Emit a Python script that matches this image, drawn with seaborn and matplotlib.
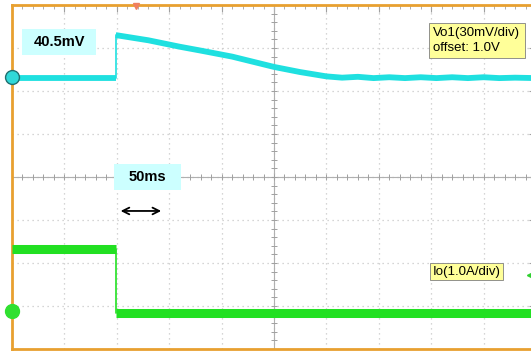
import numpy as np
import matplotlib
matplotlib.use("Agg")
import matplotlib.pyplot as plt
from matplotlib.patches import Rectangle
import seaborn as sns
import pandas as pd

step_t = 1.98
vo1_pre_t = [0.0, 1.98]
vo1_pre_v = [6.30, 6.30]
vo1_post_t = [1.98, 2.6, 3.2, 3.6, 4.2, 4.6, 5.0, 5.5, 6.0, 6.3, 6.6, 6.9,
              7.2, 7.5, 7.8, 8.1, 8.4, 8.7, 9.0, 9.3, 9.6, 10.0]
vo1_post_v = [7.30, 7.18, 7.03, 6.94, 6.80, 6.68, 6.56, 6.44, 6.34, 6.31,
              6.33, 6.30, 6.32, 6.30, 6.32, 6.30, 6.32, 6.30, 6.32, 6.30, 6.31, 6.30]
io_pre_t = [0.0, 1.98]
io_pre_v = [2.33, 2.33]
io_post_t = [1.98, 10.0]
io_post_v = [0.84, 0.84]

step_label = "40.5mV"
time_label = "50ms"
vo1_label = "Vo1(30mV/div)\noffset: 1.0V"
io_label = "Io(1.0A/div)"

sns.set_style("white")
plt.rcParams["font.family"] = ["Liberation Sans", "DejaVu Sans"]
plt.rcParams["text.color"] = "black"

fig = plt.figure(figsize=(5.31, 3.52), dpi=100)
ax = fig.add_axes([12 / 531, 3 / 352, 524 / 531, 344 / 352])

df_vo = pd.DataFrame({"t": vo1_pre_t + vo1_post_t, "v": vo1_pre_v + vo1_post_v,
                      "seg": [0] * len(vo1_pre_t) + [1] * len(vo1_post_t)})
df_io = pd.DataFrame({"t": io_pre_t + io_post_t, "v": io_pre_v + io_post_v,
                      "seg": [0] * len(io_pre_t) + [1] * len(io_post_t)})
sns.lineplot(data=df_vo, x="t", y="v", units="seg", ax=ax, color="#1fe0e0",
             lw=4.2, sort=False, estimator=None, zorder=5, solid_capstyle="butt")
sns.lineplot(data=df_io, x="t", y="v", units="seg", ax=ax, color="#22e022",
             lw=6.5, sort=False, estimator=None, zorder=5, solid_capstyle="butt")
# thin vertical edges of the steps
ax.plot([step_t, step_t], [vo1_pre_v[-1], vo1_post_v[0]], color="#1fe0e0", lw=1.2, zorder=5)
ax.plot([step_t, step_t], [io_post_v[0], io_pre_v[-1]], color="#22e022", lw=1.2, zorder=5)

ax.set_xlim(0, 10)
ax.set_ylim(0, 8)
ax.set_xlabel("")
ax.set_ylabel("")

# graticule
ax.set_xticks(np.arange(0, 11, 1))
ax.set_yticks(np.arange(0, 9, 1))
ax.set_xticks(np.arange(0, 10.01, 0.2), minor=True)
ax.set_yticks(np.arange(0, 8.01, 0.2), minor=True)
ax.tick_params(which="both", direction="in", top=True, right=True,
               labelbottom=False, labelleft=False, color="#a0a0a0")
ax.tick_params(which="major", length=5, width=0.8)
ax.tick_params(which="minor", length=3, width=0.6)
ax.grid(True, which="major", color="#c8c8c8", ls=(0, (1, 3)), lw=0.9)

ax.axhline(4, color="#b0b0b0", lw=0.8, zorder=1)
ax.axvline(5, color="#b0b0b0", lw=0.8, zorder=1)
cx = np.arange(0, 10.01, 0.2)
cy = np.arange(0, 8.01, 0.2)
ax.plot(cx, np.full_like(cx, 4), ls="none", marker="|", ms=4, mew=0.7,
        color="#a0a0a0", zorder=1)
ax.plot(np.full_like(cy, 5), cy, ls="none", marker="_", ms=4, mew=0.7,
        color="#a0a0a0", zorder=1)

for s in ax.spines.values():
    s.set_color("#e8a030")
    s.set_linewidth(2)

# channel markers
ax.plot([0], [6.33], marker="o", ms=10, mfc="#30d8d8", mec="#207070",
        mew=1, clip_on=False, zorder=8)
ax.plot([0], [0.88], marker="o", ms=10, mfc="#30e030", mec="#30e030",
        clip_on=False, zorder=8)
ax.plot([2.37], [7.98], marker="v", ms=5, color="#f08060", clip_on=False, zorder=8)
ax.plot([9.87], [1.72], marker="<", ms=3, color="#30d030", zorder=8)


def label_box(x0, y0, w, h, fc, ec=None):
    ax.add_patch(Rectangle((x0, y0), w, h, fc=fc, ec=ec or "none", lw=0.6, zorder=8))


# annotations
label_box(0.19, 6.84, 1.41, 0.60, "#ccffff")
ax.text(0.9, 7.14, step_label, ha="center", va="center", fontsize=10.5,
        fontweight="bold", color="black", zorder=9)
label_box(1.95, 3.70, 1.28, 0.60, "#ccffff")
ax.text(2.59, 4.01, time_label, ha="center", va="center", fontsize=10.5,
        fontweight="bold", color="black", zorder=9)
ax.annotate("", xy=(2.02, 3.21), xytext=(2.90, 3.21),
            arrowprops=dict(arrowstyle="<->", color="black", lw=1.3,
                            mutation_scale=12), zorder=9)
label_box(7.96, 6.77, 1.83, 0.81, "#ffff99", "#808080")
ax.text(8.03, 7.18, vo1_label, ha="left", va="center", fontsize=9.5,
        linespacing=1.35, color="black", zorder=9)
label_box(7.98, 1.60, 1.39, 0.40, "#ffff99", "#808080")
ax.text(8.03, 1.80, io_label, ha="left", va="center", fontsize=9.5,
        color="black", zorder=9)

fig.savefig("out.png", dpi=100)
